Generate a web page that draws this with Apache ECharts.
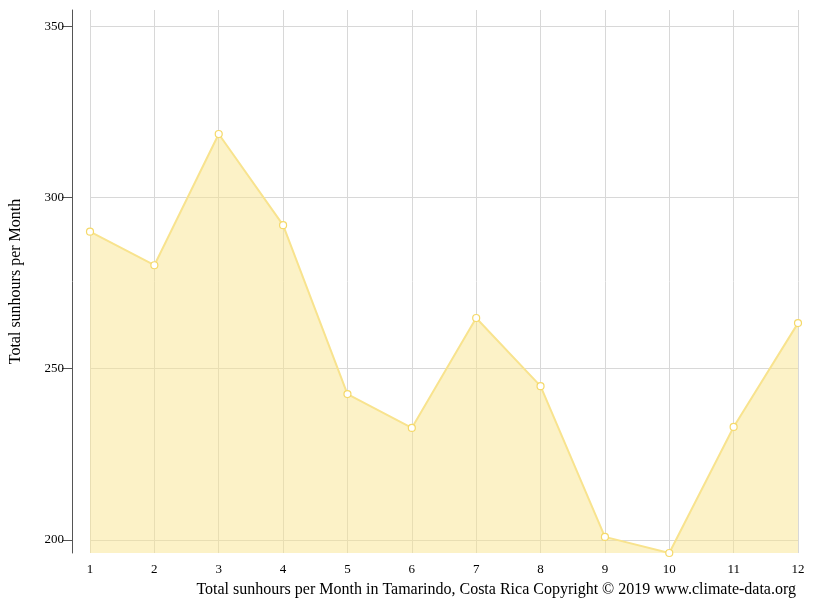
<!DOCTYPE html><html><head><meta charset="utf-8"><script src="https://cdn.jsdelivr.net/npm/echarts@6/dist/echarts.min.js"></script></head><body style="margin:0"><div id="c" style="width:815px;height:611px"></div><script>
const months=['1','2','3','4','5','6','7','8','9','10','11','12'];
const sunhours=[290,280.2,318.5,291.9,242.6,232.7,264.8,244.9,200.9,196.2,233,263.3];
const yTicks=[200,250,300,350];
const ch=echarts.init(document.getElementById('c'));
const F='Liberation Serif';
ch.setOption({animation:false,
grid:{left:89,right:17,top:10,bottom:58},
title:{text:'Total sunhours per Month in Tamarindo, Costa Rica Copyright © 2019 www.climate-data.org',right:14,bottom:8,textStyle:{fontFamily:F,fontSize:16,fontWeight:'normal',color:'#000'}},
xAxis:{type:'category',data:months,boundaryGap:false,axisLine:{show:false},axisTick:{show:false},
 axisLabel:{fontFamily:F,fontSize:13,color:'#000',margin:10},splitLine:{show:true,lineStyle:{color:'#d8d8d8'}}},
yAxis:{type:'value',min:196.2,max:354.7,offset:18,
 name:'Total sunhours per Month',nameLocation:'middle',nameGap:48,nameTextStyle:{fontFamily:F,fontSize:16,color:'#000'},
 axisLine:{show:true,lineStyle:{color:'#555'}},
 axisTick:{show:true,length:10,customValues:yTicks,lineStyle:{color:'#555'}},
 axisLabel:{customValues:yTicks,fontFamily:F,fontSize:13,color:'#000'},
 splitLine:{show:true,lineStyle:{color:'#d8d8d8'}}},
series:[{type:'line',data:sunhours,symbol:'circle',symbolSize:7,
 itemStyle:{color:'#fff',borderColor:'#f5d96a',borderWidth:1.2},
 lineStyle:{color:'#f8e38e',width:2},areaStyle:{color:'rgba(248,228,140,0.7)'}}]
});
</script></body></html>
